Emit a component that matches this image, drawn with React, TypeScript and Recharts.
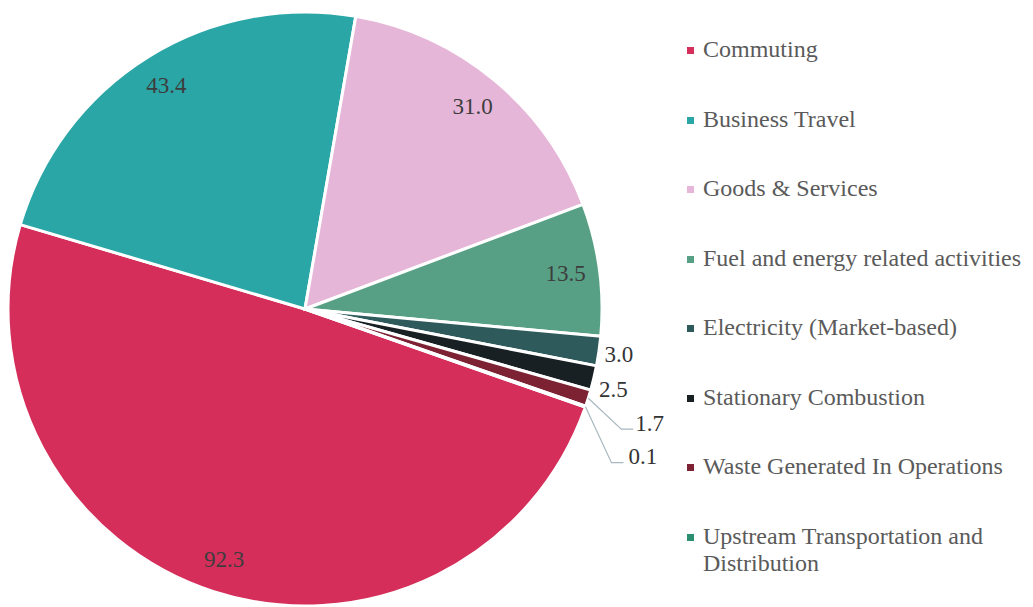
import { PieChart, Pie, Cell, Legend } from 'recharts'

// ── Data ─────────────────────────────────────────────────────────────────────

const CATEGORIES = [
  'Commuting',
  'Business Travel',
  'Goods & Services',
  'Fuel and energy related activities',
  'Electricity (Market-based)',
  'Stationary Combustion',
  'Waste Generated In Operations',
  'Upstream Transportation and Distribution',
]

const VALUES = [92.3, 43.4, 31.0, 13.5, 3.0, 2.5, 1.7, 0.1]

const COLORS = ['#D52E5A', '#2AA6A7', '#E6B6D8', '#58A085', '#2F5A5C', '#182024', '#7C2233', '#2A8F70']

const data = CATEGORIES.map((name, i) => ({ name, value: VALUES[i] }))

// ── Label layout ─────────────────────────────────────────────────────────────

const FONT = '"Liberation Serif", "DejaVu Serif", serif'
const RADIAN = Math.PI / 180

// leader-line elbows for the tiny slices (offset from the arc point)
const LEADERS: Record<number, { ex: number; ey: number; run: number; gap: number }> = {
  6: { ex: 33, ey: 31, run: 12, gap: 2 },
  7: { ex: 26, ey: 56, run: 12, gap: 5 },
}
// small nudges for outside labels without leaders
const NUDGE: Record<number, number> = { 4: 0, 5: 7 }

function renderLabel(props: any) {
  const { cx, cy, midAngle, outerRadius, percent, index, value } = props
  const cos = Math.cos(-midAngle * RADIAN)
  const sin = Math.sin(-midAngle * RADIAN)
  const text = Number(value).toFixed(1)

  if (percent > 0.05) {
    const r = outerRadius - 34
    return (
      <text x={cx + r * cos} y={cy + r * sin} fill="#3d3d3d" textAnchor="middle" dominantBaseline="central"
        style={{ fontSize: 23, fontFamily: FONT }}>
        {text}
      </text>
    )
  }

  const leader = LEADERS[index]
  if (leader) {
    const ax = cx + outerRadius * cos
    const ay = cy + outerRadius * sin
    const ex = ax + leader.ex
    const ey = ay + leader.ey
    const hx = ex + leader.run
    return (
      <g>
        <polyline points={`${ax},${ay} ${ex},${ey} ${hx},${ey}`} fill="none" stroke="#A9B8C0" strokeWidth={1.2} />
        <text x={hx + leader.gap} y={ey - 6} fill="#333" textAnchor="start" dominantBaseline="central"
          style={{ fontSize: 23, fontFamily: FONT }}>
          {text}
        </text>
      </g>
    )
  }

  const r = outerRadius + 20
  return (
    <text x={cx + r * cos} y={cy + r * sin + (NUDGE[index] ?? 0)} fill="#333" textAnchor="middle" dominantBaseline="central"
      style={{ fontSize: 23, fontFamily: FONT }}>
      {text}
    </text>
  )
}

// ── Legend ───────────────────────────────────────────────────────────────────

function renderLegend() {
  return (
    <div style={{ fontFamily: FONT, fontSize: 24, color: '#5a5a5a' }}>
      {data.map((d, i) => (
        <div key={d.name} style={{ display: 'flex', alignItems: 'flex-start', height: 69.5 }}>
          <div style={{ width: 7, height: 7, background: COLORS[i], marginTop: 11, marginRight: 9, flexShrink: 0 }} />
          <span style={{ lineHeight: '27px', whiteSpace: i === data.length - 1 ? 'normal' : 'nowrap', maxWidth: 310 }}>
            {d.name}
          </span>
        </div>
      ))}
    </div>
  )
}

// ── Chart ────────────────────────────────────────────────────────────────────

export default function App() {
  return (
    <div style={{ position: 'absolute', left: 0, top: 0, width: 1033, height: 607, background: '#fff' }}>
      <PieChart width={1033} height={607} margin={{ top: 0, right: 0, bottom: 0, left: 0 }}>
        <Pie
          data={data} dataKey="value" nameKey="name"
          cx={305} cy={309} innerRadius={0} outerRadius={297}
          startAngle={-19.3} endAngle={-379.3}
          stroke="#fff" strokeWidth={3}
          labelLine={false} label={renderLabel}
          isAnimationActive={false}
        >
          {data.map((_, i) => <Cell key={i} fill={COLORS[i]} />)}
        </Pie>
        <Legend
          layout="vertical" align="right" verticalAlign="top"
          content={renderLegend}
          wrapperStyle={{ left: 687, top: 36, width: 346 }}
        />
      </PieChart>
    </div>
  )
}
